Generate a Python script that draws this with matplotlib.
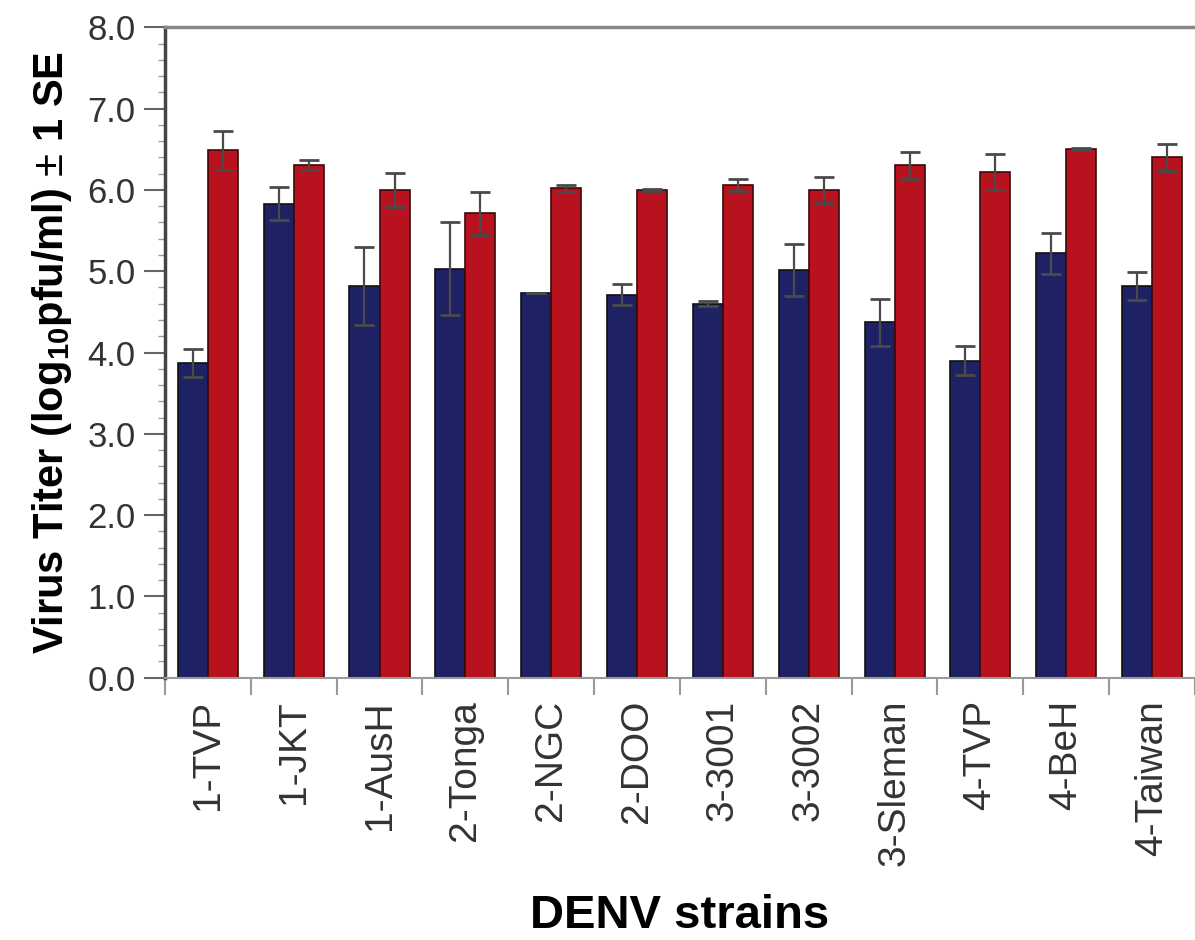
"""Virus titer by DENV strain: paired bars with SE error bars."""
import numpy as np
import matplotlib.pyplot as plt
from matplotlib.ticker import MultipleLocator

plt.rcParams["font.family"] = ["Liberation Sans", "DejaVu Sans"]
plt.rcParams["mathtext.fontset"] = "custom"
plt.rcParams["mathtext.bf"] = "Liberation Sans:bold"
plt.rcParams["mathtext.rm"] = "Liberation Sans"

strains = ["1-TVP", "1-JKT", "1-AusH", "2-Tonga", "2-NGC", "2-DOO",
           "3-3001", "3-3002", "3-Sleman", "4-TVP", "4-BeH", "4-Taiwan"]
blue_vals = [3.87, 5.83, 4.82, 5.03, 4.73, 4.71, 4.60, 5.02, 4.37, 3.90, 5.22, 4.82]
blue_se = [0.17, 0.20, 0.48, 0.57, 0.00, 0.13, 0.03, 0.32, 0.29, 0.18, 0.25, 0.17]
red_vals = [6.49, 6.31, 6.00, 5.71, 6.02, 6.00, 6.06, 6.00, 6.30, 6.22, 6.50, 6.40]
red_se = [0.24, 0.06, 0.21, 0.26, 0.04, 0.01, 0.07, 0.16, 0.17, 0.22, 0.01, 0.17]

BLUE = "#1e2163"
RED = "#b8121e"

fig = plt.figure(figsize=(11.95, 9.4), dpi=100)
ax = fig.add_axes([0.138, 0.279, 0.862, 0.692])

x = np.arange(len(strains))
w = 0.35
err_kw = dict(ecolor="#4a4a4a", capsize=7, elinewidth=1.6, capthick=2)
ax.bar(x - w / 2, blue_vals, w, yerr=blue_se, color=BLUE, edgecolor="#111111",
       linewidth=1.2, error_kw=err_kw, zorder=2)
ax.bar(x + w / 2, red_vals, w, yerr=red_se, color=RED, edgecolor="#3a0a0a",
       linewidth=1.2, error_kw=err_kw, zorder=2)

ax.set_xlim(-0.5, len(strains) - 0.5)
ax.set_ylim(0, 8)
ax.yaxis.set_major_locator(MultipleLocator(1.0))
ax.yaxis.set_minor_locator(MultipleLocator(0.2))
ax.set_yticklabels([f"{v:.1f}" for v in ax.get_yticks()])

# x ticks sit on the group boundaries, labels at the group centres
ax.set_xticks(np.arange(len(strains) + 1) - 0.5)
ax.set_xticklabels([])
ax.set_xticks(x, minor=True)
ax.set_xticklabels(strains, minor=True, rotation=90, fontsize=28, color="#333333")
ax.tick_params(axis="x", which="minor", length=0, pad=16)
ax.tick_params(axis="x", which="major", length=12, width=1.5, color="#999999")
ax.tick_params(axis="y", which="major", length=15, width=1.5, color="#666666",
               labelsize=25, labelcolor="#333333", pad=6)
ax.tick_params(axis="y", which="minor", length=5, width=1.0, color="#999999")

ax.spines["right"].set_visible(False)
ax.spines["top"].set_color("#888888")
ax.spines["top"].set_linewidth(2.5)
ax.spines["left"].set_color("#444444")
ax.spines["left"].set_linewidth(2.5)
ax.spines["bottom"].set_color("#999999")
ax.spines["bottom"].set_linewidth(1.5)

ax.set_ylabel(r"Virus Titer (log$_{\mathbf{10}}$pfu/ml) $\pm$ 1 SE", fontsize=30,
              fontweight="bold", labelpad=10)
ax.set_xlabel("DENV strains", fontsize=34, fontweight="bold", labelpad=20)

fig.savefig("out.png", dpi=100)
